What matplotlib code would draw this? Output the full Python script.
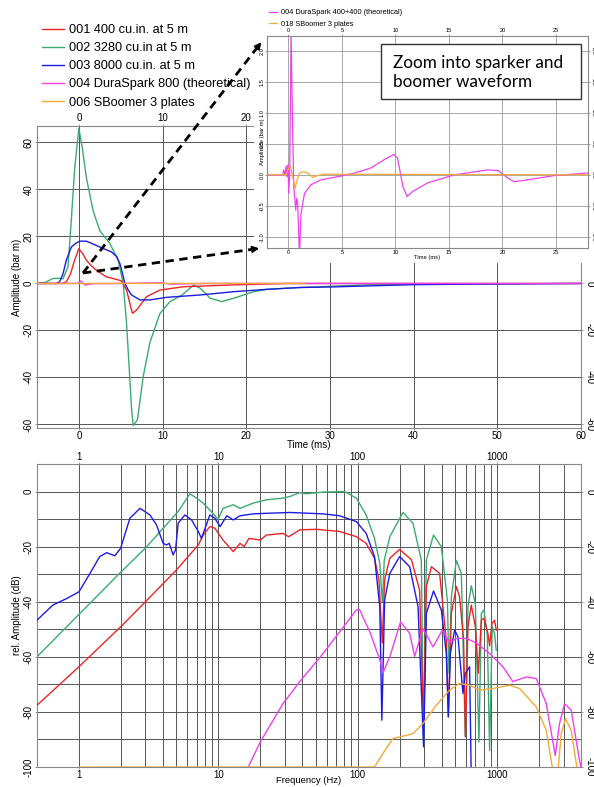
import matplotlib
matplotlib.use('Agg')
import matplotlib.pyplot as plt
from matplotlib.lines import Line2D
from matplotlib.patches import Rectangle, FancyArrowPatch

plt.rcParams['font.family'] = ['Liberation Sans', 'DejaVu Sans']
plt.rcParams['axes.unicode_minus'] = False

W, H = 594, 787

# ---------------- time domain, main panel (ms, bar m) ----------------
t_001 = [-5, -2, -1.5, -1, -0.5, 0, 0.5, 0.9, 1.5, 2.1, 3.3, 4.5, 5.1, 5.7, 6.4, 6.9, 8.1, 9.7, 12.5, 18.5, 25, 60]
a_001 = [0, 0, 0.7, 4, 10, 14.8, 12.5, 9.9, 7.5, 5.6, 2.8, 1.7, 1.1, -2.8, -12.7, -11.3, -5.6, -2.8, -1.4, -0.6, 0, 0]

t_002 = [-5, -4, -3.1, -2.3, -1.9, -1.3, -0.9, -0.5, 0, 0.4, 0.9, 1.7, 2.5, 3.7, 4.7, 5.3, 5.7, 6.0, 6.3, 6.5,
         7.0, 7.7, 8.5, 9.7, 10.9, 12.3, 13.7, 14.5, 15.7, 17.1, 18.5, 20.9, 22.5, 26, 30, 35, 60]
a_002 = [0, 0.5, 2.1, 2.2, 2, 7, 27, 49, 66, 58, 45, 31, 22.5, 17, 10, 0, -17, -35, -53.5, -60.5,
         -58, -39.4, -25, -12.7, -7.7, -5, -0.7, -2, -6.3, -7.7, -6.3, -3.5, -2.5, -1.8, -1.2, -0.5, 0]

t_003 = [-5, -2.7, -2.3, -1.9, -1.5, -0.9, -0.4, 0.1, 0.9, 1.7, 2.5, 3.9, 4.5, 4.9, 5.2, 5.5, 5.9, 6.3,
         7.3, 8.5, 10.5, 14.5, 18.5, 22.5, 26.5, 30, 40, 50, 60]
a_003 = [0, 0, 0.7, 4, 9.9, 15.5, 17, 18, 18, 16.8, 15.5, 13.4, 11.5, 8.5, 4.5, 0, -2.8, -4.9,
         -7, -7, -5.9, -4.9, -3.5, -2.5, -1.7, -1.5, -0.5, -0.2, 0]

t_004 = [-5, -0.3, 0.0, 0.25, 0.5, 0.8, 1.2, 2.0, 5.0, 9.8, 11.0, 15, 60]
a_004 = [0, 0, 0.3, 1.1, 0.2, -0.7, -0.3, -0.1, 0, 0.3, -0.3, 0, 0]

t_006 = [-5, 0, 0.2, 0.6, 1.0, 27]
a_006 = [0, 0, 0.15, -0.22, 0.03, 0]

# ---------------- inset: sparker / boomer ----------------
ti_004 = [-2, -0.53, -0.44, -0.31, -0.22, -0.12, -0.03, 0.03, 0.12, 0.25, 0.35, 0.5, 0.56, 0.69, 0.78, 0.87,
          1.03, 1.18, 1.5, 2.1, 3.05, 4.9, 6.2, 7.7, 9.0, 9.85, 10.2, 10.7, 11.1, 11.6, 13.0, 15.5,
          18.6, 19.6, 20.5, 21.1, 22.4, 24.9, 28]
ai_004 = [0, 0, 0.08, 0.0, 0.14, -0.03, 0.16, -0.3, 0.03, 2.28, 1.2, -0.2, -0.3, -0.57, -0.38, -0.46,
          -1.3, -0.63, -0.3, -0.16, -0.08, -0.02, 0.03, 0.11, 0.25, 0.33, 0.27, -0.19, -0.35, -0.27, -0.13, 0,
          0.08, 0.07, -0.05, -0.11, -0.08, -0.01, 0.03]

ti_018 = [-2, -0.2, -0.06, 0.19, 0.4, 0.62, 0.85, 1.05, 1.35, 1.8, 2.27, 2.75, 3.4, 28]
ai_018 = [0, 0, 0.08, 0.15, -0.03, -0.22, -0.06, 0.03, 0.05, 0.03, -0.04, -0.01, 0.01, 0]

# ---------------- spectra (Hz, dB) ----------------
f_001 = [0.5, 1, 2, 3, 5, 7.18, 7.78, 8.69, 9.44, 10.8, 12.8, 14.3, 15.3, 16.6, 20, 22.1, 29.1, 32, 38.4,
         50.6, 74.3, 97.8, 115, 132, 142, 150, 156, 170, 200, 243, 278, 297, 311, 338, 387, 432, 447,
         470, 510, 538, 575, 592, 618, 653, 698, 733, 771, 804, 859, 884, 918, 959, 986]
d_001 = [-77.6, -63.6, -49, -40, -28.5, -19.4, -15.8, -12.7, -13.3, -17.6, -21.8, -18.8, -20, -17, -17.6,
         -15.8, -15.2, -16.4, -13.9, -13.7, -14.5, -16.4, -18.8, -24.2, -32, -55, -32, -24.2, -21, -24.8,
         -35.8, -84, -34.5, -27.3, -29.7, -54, -81.8, -44.2, -34.5, -38.2, -54, -89, -49, -41.2, -49,
         -66, -46.7, -46, -51.5, -56, -47.9, -46.7, -50.3]

f_002 = [0.5, 1, 2, 3, 5.14, 6.25, 6.97, 7.78, 8.69, 9.97, 10.8, 12.8, 14.3, 17.8, 22.1, 29.1, 32.6, 38.4,
         42.9, 56.4, 80.7, 97.8, 115, 132, 144, 150, 152, 155, 170, 211, 249, 286, 297, 311, 350, 398,
         440, 452, 470, 510, 554, 592, 618, 653, 698, 741, 771, 804, 850, 884, 923, 959, 986]
d_002 = [-60, -44.6, -29.2, -20.5, -7.3, -0.8, -2.4, -4.2, -6.7, -10.1, -6.1, -4.8, -6.1, -4.2, -3, -2.4,
         -1.8, -0.4, -0.8, -0.2, 0, -2.4, -8.5, -17, -26, -40, -35, -25, -16.4, -7.6, -11.5, -24.8, -91.5,
         -24.8, -15.8, -20, -39.4, -66, -38.2, -25, -29.7, -89, -41.8, -34.2, -40.6, -90.9, -44.2, -43,
         -51.5, -94, -49, -51.5, -57.6]

f_003 = [0.5, 0.65, 0.82, 1.0, 1.2, 1.41, 1.58, 1.81, 1.99, 2.32, 2.74, 3.23, 3.6, 4.02, 4.25, 4.44, 4.74,
         4.93, 5.15, 5.75, 6.43, 7.18, 7.57, 8.69, 9.44, 10.3, 11.5, 12.8, 14.3, 17.8, 22.1, 32.6, 56.4,
         74.3, 97.8, 115, 132, 144, 149, 156, 170, 200, 236, 271, 297, 311, 350, 398, 432, 447, 462,
         496, 524, 569, 592, 635, 653]
d_003 = [-46.7, -41.2, -38.8, -36.4, -29.7, -23.6, -22.2, -23.3, -20.6, -9.7, -6.1, -8.5, -12.1, -18.8,
         -19.4, -18.8, -23, -21.2, -11.5, -8.5, -10.3, -14.5, -17, -8.5, -9.7, -12.7, -8.8, -10.3, -8.8,
         -8.1, -7.9, -7.6, -8.1, -8.8, -10.9, -15.2, -23.6, -41.8, -83, -39.4, -29.7, -23.6, -27.3, -41.8,
         -92.7, -44.2, -36.1, -43, -58.8, -81.8, -58.8, -50.3, -52.7, -73.3, -66, -63.6, -105]

f_004 = [16.4, 20, 29.1, 38.4, 56.4, 97.8, 103, 122, 144, 152, 170, 203, 236, 256, 294, 347, 405, 456,
         510, 603, 710, 884, 1101, 1298, 1618, 1910, 2253, 2614, 2806, 3048, 3404, 3902, 4000]
d_004 = [-100, -90.9, -77, -69, -58.8, -43, -42.8, -50.9, -61, -65.7, -60, -47.3, -51.5, -59.8, -49.7,
         -56.4, -50.3, -55, -53.3, -53.3, -55, -58.8, -63.6, -69, -67.3, -67.9, -77, -95.8, -84.2, -77,
         -79.4, -97.6, -100]

f_006 = [1, 132, 152, 179, 249, 294, 366, 456, 538, 635, 750, 933, 1231, 1450, 1910, 2253, 2490, 2600,
         2750, 2885, 3097, 3404, 3734, 4000]
d_006 = [-100, -100, -95, -89.7, -87.9, -84.2, -77.6, -72.1, -69.7, -70.3, -72.1, -71.5, -70.3, -71.5,
         -78.2, -86.7, -100, -108, -100, -87.9, -82.4, -86.7, -100, -110]

labels = ['001 400 cu.in. at 5 m', '002 3280 cu.in at 5 m', '003 8000 cu.in. at 5 m',
          '004 DuraSpark 800 (theoretical)', '006 SBoomer 3 plates']
inset_labels = ['004 DuraSpark 400+400 (theoretical)', '018 SBoomer 3 plates']

RED, GREEN, BLUE, MAGENTA, ORANGE = '#ec2424', '#3daa72', '#1c1ce0', '#ee40ee', '#f2a93a'
GRID = '#555555'


def fbox(x0, y0, x1, y1):
    # pixel box (top-left origin) -> figure fraction rect
    return [x0 / W, 1 - y1 / H, (x1 - x0) / W, (y1 - y0) / H]


def fpt(x, y):
    return (x / W, 1 - y / H)


def style_axes(ax, size, gridcol, lw, pad=0.8):
    for s in ax.spines.values():
        s.set_color('#888888')
        s.set_linewidth(0.8)
    ax.grid(True, which='both', color=gridcol, lw=lw)
    ax.set_axisbelow(True)
    ax.tick_params(which='major', labelsize=size, length=1.5, width=0.6,
                   color='#888888', pad=pad, top=True, right=True, labeltop=True, labelright=True)
    ax.tick_params(which='minor', length=0)
    for tk in ax.yaxis.get_major_ticks():
        tk.label1.set_rotation(90)
        tk.label1.set_verticalalignment('center')
        tk.label2.set_rotation(-90)
        tk.label2.set_verticalalignment('center')


fig = plt.figure(figsize=(W / 100, H / 100), dpi=100)

# ---- main time panel ----
ax = fig.add_axes(fbox(37, 126, 581, 428))
ax.plot(t_001, a_001, color=RED, lw=1.0, zorder=3)
ax.plot(t_002, a_002, color=GREEN, lw=1.0, zorder=2)
ax.plot(t_003, a_003, color=BLUE, lw=1.0, zorder=4)
ax.plot(t_004, a_004, color=MAGENTA, lw=1.0, zorder=5)
ax.plot(t_006, a_006, color=ORANGE, lw=1.0, zorder=6)
ax.set_xlim(-5, 60)
ax.set_ylim(-61.5, 67)
ax.set_xticks(range(0, 61, 10))
ax.set_yticks(range(-60, 61, 20))
style_axes(ax, 7, GRID, 0.7)
# labels that sit under the inset are not shown in the original
for v, tk in zip(range(-60, 61, 20), ax.yaxis.get_major_ticks()):
    if v > 0:
        tk.label2.set_visible(False)
for v, tk in zip(range(0, 61, 10), ax.xaxis.get_major_ticks()):
    if v > 20:
        tk.label2.set_visible(False)
ax.set_xlabel('Time (ms)', fontsize=7, labelpad=-1)
ax.set_ylabel('Amplitude (bar m)', fontsize=7, labelpad=1)

# ---- spectrum panel ----
bx = fig.add_axes(fbox(37, 464, 581, 767))
bx.plot(f_002, d_002, color=GREEN, lw=1.0, zorder=2)
bx.plot(f_001, d_001, color=RED, lw=1.0, zorder=3)
bx.plot(f_003, d_003, color=BLUE, lw=1.0, zorder=4)
bx.plot(f_004, d_004, color=MAGENTA, lw=1.0, zorder=5)
bx.plot(f_006, d_006, color=ORANGE, lw=1.0, zorder=6)
bx.set_xscale('log')
bx.set_xlim(0.5, 4000)
bx.set_ylim(-100, 10)
bx.set_xticks([1, 10, 100, 1000], labels=['1', '10', '100', '1000'])
bx.set_xticks([m * d for d in (1, 10, 100) for m in range(2, 10)] + [2000, 3000], minor=True)
bx.set_yticks(range(-100, 1, 20))
bx.set_yticks(range(-90, 0, 20), minor=True)
style_axes(bx, 7, GRID, 0.7)
bx.tick_params(axis='x', which='major', pad=0.3)
bx.set_xlabel('Frequency (Hz)', fontsize=6.8, labelpad=-2.5)
bx.set_ylabel('rel. Amplitude (dB)', fontsize=7, labelpad=1)

# white patch under inset
fig.add_artist(Rectangle(fpt(254, 263), 340 / W, 263 / H, transform=fig.transFigure,
                         fc='white', ec='none', zorder=2))

# ---- inset ----
ix = fig.add_axes(fbox(267, 36, 588, 248), zorder=3)
ix.plot(ti_004, ai_004, color=MAGENTA, lw=0.9)
ix.plot(ti_018, ai_018, color=ORANGE, lw=0.9)
ix.set_xlim(-2, 28)
ix.set_ylim(-1.18, 2.24)
ix.set_xticks(range(0, 26, 5))
ix.set_yticks([-1.0, -0.5, 0.0, 0.5, 1.0, 1.5, 2.0], labels=['-1.0', '-0.5', '0.0', '0.5', '1.0', '1.5', '2.0'])
style_axes(ix, 4.1, '#999999', 0.6, pad=0.3)
ix.set_xlabel('Time (ms)', fontsize=4.2, labelpad=0)
ix.set_ylabel('Amplitude (bar m)', fontsize=4.2, labelpad=-4)

# ---- legends ----
cols = [RED, GREEN, BLUE, MAGENTA, ORANGE]
fig.legend([Line2D([], [], color=c, lw=1.0) for c in cols], labels, loc='upper left',
           bbox_to_anchor=fpt(42, 24), frameon=False, fontsize=9.2, handlelength=1.7,
           handletextpad=0.4, labelspacing=0.48, borderpad=0, borderaxespad=0)
fig.legend([Line2D([], [], color=c, lw=0.9) for c in (MAGENTA, ORANGE)], inset_labels,
           loc='upper left', bbox_to_anchor=fpt(269, 9), frameon=False, fontsize=5.3,
           handlelength=1.1, handletextpad=0.5, labelspacing=0.6, borderpad=0, borderaxespad=0)

# ---- annotation box ----
fig.add_artist(Rectangle(fpt(381, 99), 200 / W, 55 / H, transform=fig.transFigure,
                         fc='white', ec='#333333', lw=1.0, zorder=6))
fig.text(393 / W, 1 - 72.5 / H, 'Zoom into sparker and\nboomer waveform', family=['Lato', 'DejaVu Sans'],
         fontsize=12.3, ha='left', va='center', linespacing=1.22, zorder=7)

# ---- dashed arrows ----
start = (83, 273)
for end in [(263, 40), (262, 248)]:
    dx, dy = end[0] - start[0], end[1] - start[1]
    n = (dx ** 2 + dy ** 2) ** 0.5
    back = (end[0] - dx / n * 9, end[1] - dy / n * 9)
    fig.add_artist(Line2D([start[0] / W, back[0] / W], [1 - start[1] / H, 1 - back[1] / H],
                          transform=fig.transFigure, color='black', lw=2, ls=(0, (3, 2)), zorder=6))
    fig.add_artist(FancyArrowPatch(fpt(*back), fpt(*end), transform=fig.transFigure,
                                   arrowstyle='-|>', mutation_scale=9, color='black',
                                   lw=1.5, zorder=6))

fig.savefig('out.png', dpi=100)
